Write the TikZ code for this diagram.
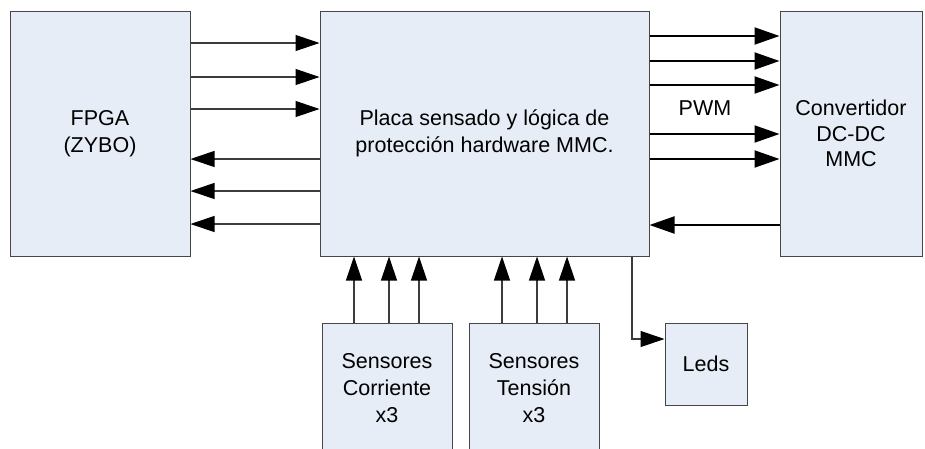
\documentclass[tikz,border=0pt]{standalone}
\usepackage{fontspec}
\setmainfont{Liberation Sans}
\usetikzlibrary{arrows.meta}
\definecolor{boxfill}{RGB}{231,237,247}
\definecolor{boxline}{RGB}{70,70,70}
\definecolor{thinline}{RGB}{60,60,60}
\tikzset{
  blk/.style={draw=boxline, line width=1pt, fill=boxfill, align=center, inner sep=0pt,
    font=\fontsize{21.5}{27}\selectfont},
  thinarr/.style={draw=thinline, line width=1.1pt, -{Triangle[length=24pt,width=16pt,color=black,fill=black]}},
  thickarr/.style={draw=black, line width=2pt, -{Triangle[length=25pt,width=17pt]}},
  lbl/.style={font=\fontsize{21.5}{27}\selectfont, inner sep=0pt}
}
\begin{document}
\begin{tikzpicture}[x=1pt,y=-1pt]
\useasboundingbox (0,0) rectangle (925,448);
\clip (0,0) rectangle (925,448);
\node[blk, minimum width=180pt, minimum height=245pt] (fpga) at (100,133.5) {FPGA\\(ZYBO)};
\node[blk, minimum width=329pt, minimum height=245pt] (main) at (484.5,133.5) {Placa sensado y lógica de\\protección hardware MMC.};
\node[blk, minimum width=142pt, minimum height=245pt, font=\fontsize{21.5}{25.5}\selectfont] (conv) at (851,133.5) {Convertidor\\DC-DC\\MMC};
\node[blk, minimum width=130pt, minimum height=130pt] (sc) at (387,388) {Sensores\\Corriente\\x3};
\node[blk, minimum width=130pt, minimum height=130pt] (st) at (534,388) {Sensores\\Tensión\\x3};
\node[blk, minimum width=82pt, minimum height=82pt] (leds) at (706,364) {Leds};
\node[lbl] (pwm) at (705,108) {PWM};
% FPGA -> main
\foreach \yy in {43,77,109} {
  \draw[thinarr] (fpga.east |- 0,\yy) -- (main.west |- 0,\yy);
}
% main -> FPGA
\foreach \yy in {159,191,224} {
  \draw[thinarr] (main.west |- 0,\yy) -- (fpga.east |- 0,\yy);
}
% main -> converter (PWM)
\foreach \yy in {36,61,85,134,159} {
  \draw[thickarr] (main.east |- 0,\yy) -- (conv.west |- 0,\yy);
}
% converter -> main
\draw[thickarr] (conv.west |- 0,225) -- (main.east |- 0,225);
% sensors -> main
\foreach \xx in {354,389,419} {
  \draw[thinarr] (sc.north -| \xx,0) -- (main.south -| \xx,0);
}
\foreach \xx in {502,537,567} {
  \draw[thinarr] (st.north -| \xx,0) -- (main.south -| \xx,0);
}
% main -> leds
\draw[thinarr] (main.south -| 632,0) |- (leds.west |- 0,339);
\end{tikzpicture}
\end{document}
